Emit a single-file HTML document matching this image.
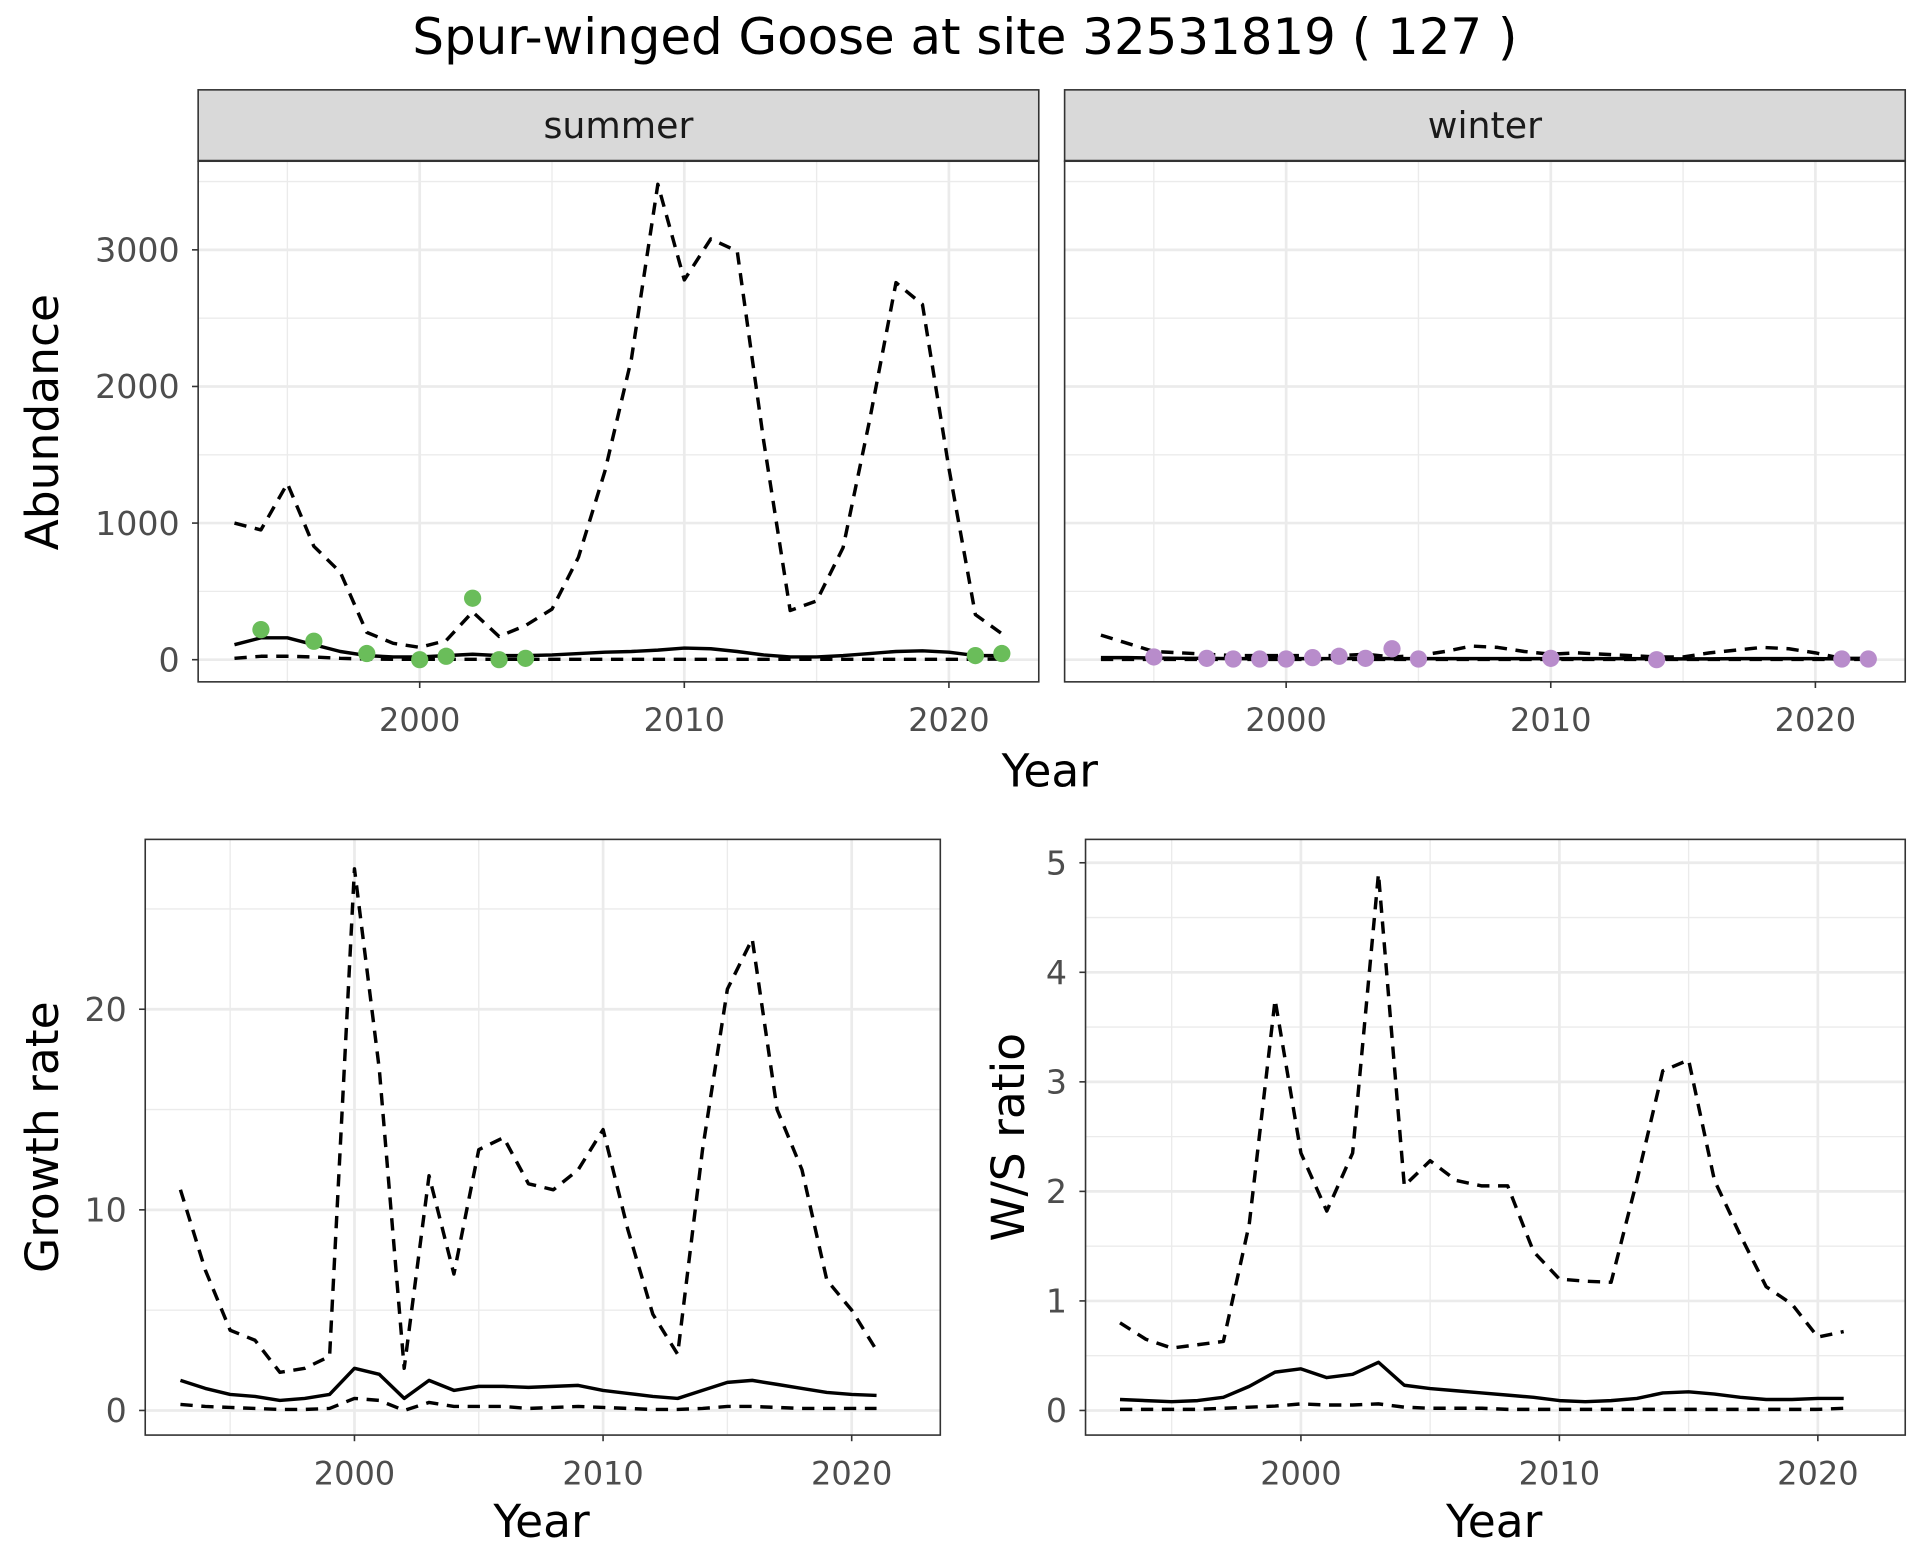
<!DOCTYPE html>
<html><head><meta charset="utf-8"><style>
html,body{margin:0;padding:0;background:#fff}
svg{display:block;font-family:"DejaVu Sans","Liberation Sans",sans-serif}
</style></head><body>
<svg id="chart" width="1920" height="1560" viewBox="0 0 1560 1267.5" xmlns="http://www.w3.org/2000/svg">
<rect width="1560" height="1267.5" fill="#fff"/>
<text x="784" y="44" font-size="40.5" text-anchor="middle" fill="#000">Spur-winged Goose at site 32531819 ( 127 )</text>
</svg>
<script>
const summerYears=[1993,1994,1995,1996,1997,1998,1999,2000,2001,2002,2003,2004,2005,2006,2007,2008,2009,2010,2011,2012,2013,2014,2015,2016,2017,2018,2019,2020,2021,2022];
const summerUpper=[1000,950,1290,830,640,200,120,90,140,350,170,250,370,750,1380,2200,3480,2780,3080,2990,1600,360,430,820,1750,2760,2600,1400,330,190];
const summerMean=[110,160,160,110,60,30,20,20,30,40,30,30,35,45,55,60,70,85,80,60,35,20,20,30,45,60,65,55,30,30];
const summerLower=[10,25,25,20,10,5,3,3,3,3,3,3,3,3,3,3,3,3,3,3,3,3,3,3,3,3,3,3,3,5];
const summerObsYears=[1994,1996,1998,2000,2001,2002,2003,2004,2021,2022];
const summerObs=[220,135,45,0,25,450,0,10,30,45];
const winterUpper=[180,120,60,50,40,30,30,30,30,30,40,20,30,60,100,90,60,40,50,40,30,20,20,50,70,90,80,50,10,10];
const winterMean=[15,15,12,10,10,8,8,8,8,8,10,8,8,8,8,8,8,8,8,8,8,6,6,6,8,8,8,8,6,6];
const winterLower=[2,2,2,2,2,2,2,2,2,2,2,2,2,2,2,2,2,2,2,2,2,2,2,2,2,2,2,2,2,2];
const winterObsYears=[1995,1997,1998,1999,2000,2001,2002,2003,2004,2005,2010,2014,2021,2022];
const winterObs=[20,10,5,5,5,15,25,10,80,5,10,0,5,5];
const rateYears=[1993,1994,1995,1996,1997,1998,1999,2000,2001,2002,2003,2004,2005,2006,2007,2008,2009,2010,2011,2012,2013,2014,2015,2016,2017,2018,2019,2020,2021];
const growthUpper=[11,7,4,3.5,1.9,2.1,2.7,27,17,2.1,11.7,6.8,13,13.6,11.3,11,12,14,9,4.8,2.8,13,21,23.5,15,12,6.5,5,3];
const growthMean=[1.5,1.1,0.8,0.7,0.5,0.6,0.8,2.1,1.8,0.6,1.5,1.0,1.2,1.2,1.15,1.2,1.25,1.0,0.85,0.7,0.6,1.0,1.4,1.5,1.3,1.1,0.9,0.8,0.75];
const growthLower=[0.3,0.2,0.15,0.1,0.05,0.05,0.1,0.6,0.5,0.0,0.4,0.2,0.2,0.2,0.1,0.15,0.2,0.15,0.1,0.05,0.05,0.1,0.2,0.2,0.15,0.1,0.1,0.1,0.1];
const ratioUpper=[0.8,0.65,0.57,0.6,0.63,1.7,3.75,2.35,1.82,2.35,4.9,2.05,2.28,2.1,2.05,2.05,1.45,1.2,1.18,1.17,2.1,3.1,3.2,2.1,1.6,1.13,0.97,0.67,0.72];
const ratioMean=[0.1,0.09,0.08,0.09,0.12,0.22,0.35,0.38,0.3,0.33,0.44,0.23,0.2,0.18,0.16,0.14,0.12,0.09,0.08,0.09,0.11,0.16,0.17,0.15,0.12,0.1,0.1,0.11,0.11];
const ratioLower=[0.01,0.01,0.01,0.01,0.02,0.03,0.04,0.06,0.05,0.05,0.06,0.03,0.02,0.02,0.02,0.01,0.01,0.01,0.01,0.01,0.01,0.01,0.01,0.01,0.01,0.01,0.01,0.01,0.02];
const xTicks=[2000,2010,2020];
const xMinor=[1995,2005,2015];
const abundTicks=[0,1000,2000,3000];
const abundMinor=[500,1500,2500,3500];
const growthTicks=[0,10,20];
const growthMinor=[5,15,25];
const ratioTicks=[0,1,2,3,4,5];
const ratioMinor=[0.5,1.5,2.5,3.5,4.5];

const svg=document.getElementById('chart');
const NS='http://www.w3.org/2000/svg';
function mk(tag,attrs,parent){const e=document.createElementNS(NS,tag);for(const k in attrs)e.setAttribute(k,attrs[k]);(parent||svg).appendChild(e);return e;}
function lin(d0,d1,r0,r1){return v=>r0+(v-d0)*(r1-r0)/(d1-d0);}

function panel(name,box,xs,ys,yT,yMin,showY,series,pts,ptColor){
  const g=mk('g',{});
  
  
  mk('rect',{x:box.x0,y:box.y0,width:box.x1-box.x0,height:box.y1-box.y0,fill:'#fff'},g);
  yMin.forEach(v=>{const l=mk('line',{x1:box.x0,x2:box.x1,y1:ys(v),y2:ys(v),stroke:'#EBEBEB','stroke-width':1.1},g);});
  xMinor.forEach(v=>{const l=mk('line',{x1:xs(v),x2:xs(v),y1:box.y0,y2:box.y1,stroke:'#EBEBEB','stroke-width':1.1},g);});
  yT.forEach(v=>{const l=mk('line',{x1:box.x0,x2:box.x1,y1:ys(v),y2:ys(v),stroke:'#EBEBEB','stroke-width':2.2},g);});
  xTicks.forEach(v=>{const l=mk('line',{x1:xs(v),x2:xs(v),y1:box.y0,y2:box.y1,stroke:'#EBEBEB','stroke-width':2.2},g);});
  series.forEach(s=>{
    const d=s.ys.map((v,i)=>(i?'L':'M')+xs(s.xs[i]).toFixed(2)+','+ys(v).toFixed(2)).join(' ');
    const p=mk('path',{d:d,fill:'none',stroke:'#000','stroke-width':2.8,'stroke-dasharray':s.dash?'10,7':'none','stroke-linejoin':'round'},g);
    
    
  });
  if(pts){pts.ys.forEach((v,i)=>{const c=mk('circle',{cx:xs(pts.xs[i]),cy:ys(v),r:7,fill:ptColor},g);
    
    });}
  mk('rect',{x:box.x0,y:box.y0,width:box.x1-box.x0,height:box.y1-box.y0,fill:'none',stroke:'#333','stroke-width':1.3},g);
  xTicks.forEach(v=>{mk('line',{x1:xs(v),x2:xs(v),y1:box.y1,y2:box.y1+5,stroke:'#333','stroke-width':1.3},g);
    const t=mk('text',{x:xs(v),y:box.y1+40,'font-size':26,'text-anchor':'middle',fill:'#4D4D4D'},g);t.textContent=v;
    });
  if(showY){yT.forEach(v=>{mk('line',{x1:box.x0-5,x2:box.x0,y1:ys(v),y2:ys(v),stroke:'#333','stroke-width':1.3},g);
    const t=mk('text',{x:box.x0-15,y:ys(v)+9.5,'font-size':27,'text-anchor':'end',fill:'#4D4D4D'},g);t.textContent=v;
    });}
  return g;
}
function strip(label,x0,x1){
  const g=mk('g',{});
  
  
  mk('rect',{x:x0,y:73,width:x1-x0,height:58,fill:'#D9D9D9',stroke:'#333','stroke-width':1.3},g);
  mk('line',{x1:x0,x2:x1,y1:131,y2:131,stroke:'#333','stroke-width':2.5},g);
  const t=mk('text',{x:(x0+x1)/2,y:112,'font-size':29.5,'text-anchor':'middle',fill:'#1A1A1A'},g);t.textContent=label;
}
function title(txt,x,y,rot,name){const t=mk('text',{x:x,y:y,'font-size':37,'text-anchor':'middle',fill:'#000',transform:rot?`rotate(-90 ${x} ${y})`:''});t.textContent=txt;
  }

// top panels
const yAb=lin(0,1000,536,425);
const sb={x0:161,x1:844,y0:131,y1:554};
strip('summer',161,844);
panel('summer',sb,lin(2000,2010,341,556),yAb,abundTicks,abundMinor,true,
 [{xs:summerYears,ys:summerUpper,dash:true,name:'summer-upper-ci-line'},{xs:summerYears,ys:summerMean,dash:false,name:'summer-mean-line'},{xs:summerYears,ys:summerLower,dash:true,name:'summer-lower-ci-line'}],
 {xs:summerObsYears,ys:summerObs},'#6ABD5A');
const wb={x0:865,x1:1548,y0:131,y1:554};
strip('winter',865,1548);
panel('winter',wb,lin(2000,2010,1045,1260),yAb,abundTicks,abundMinor,false,
 [{xs:summerYears,ys:winterUpper,dash:true,name:'winter-upper-ci-line'},{xs:summerYears,ys:winterMean,dash:false,name:'winter-mean-line'},{xs:summerYears,ys:winterLower,dash:true,name:'winter-lower-ci-line'}],
 {xs:winterObsYears,ys:winterObs},'#B88CCB');
title('Abundance',47,343,true,'abundance-axis-title');
title('Year',853,639,false,'top-x-axis-title');

// bottom left
panel('growth',{x0:118,x1:764,y0:682,y1:1166},lin(2000,2010,288,490),lin(0,10,1146,983),growthTicks,growthMinor,true,
 [{xs:rateYears,ys:growthUpper,dash:true,name:'growth-upper-ci-line'},{xs:rateYears,ys:growthMean,dash:false,name:'growth-mean-line'},{xs:rateYears,ys:growthLower,dash:true,name:'growth-lower-ci-line'}],null,null);
title('Growth rate',47,924,true,'growth-rate-axis-title');
title('Year',440,1249,false,'growth-x-axis-title');

// bottom right
panel('ratio',{x0:882,x1:1548,y0:682,y1:1166},lin(2000,2010,1057,1267),lin(0,1,1146,1057),ratioTicks,ratioMinor,true,
 [{xs:rateYears,ys:ratioUpper,dash:true,name:'ratio-upper-ci-line'},{xs:rateYears,ys:ratioMean,dash:false,name:'ratio-mean-line'},{xs:rateYears,ys:ratioLower,dash:true,name:'ratio-lower-ci-line'}],null,null);
title('W/S ratio',832,924,true,'ws-ratio-axis-title');
title('Year',1214,1249,false,'ratio-x-axis-title');
</script>
</body></html>
